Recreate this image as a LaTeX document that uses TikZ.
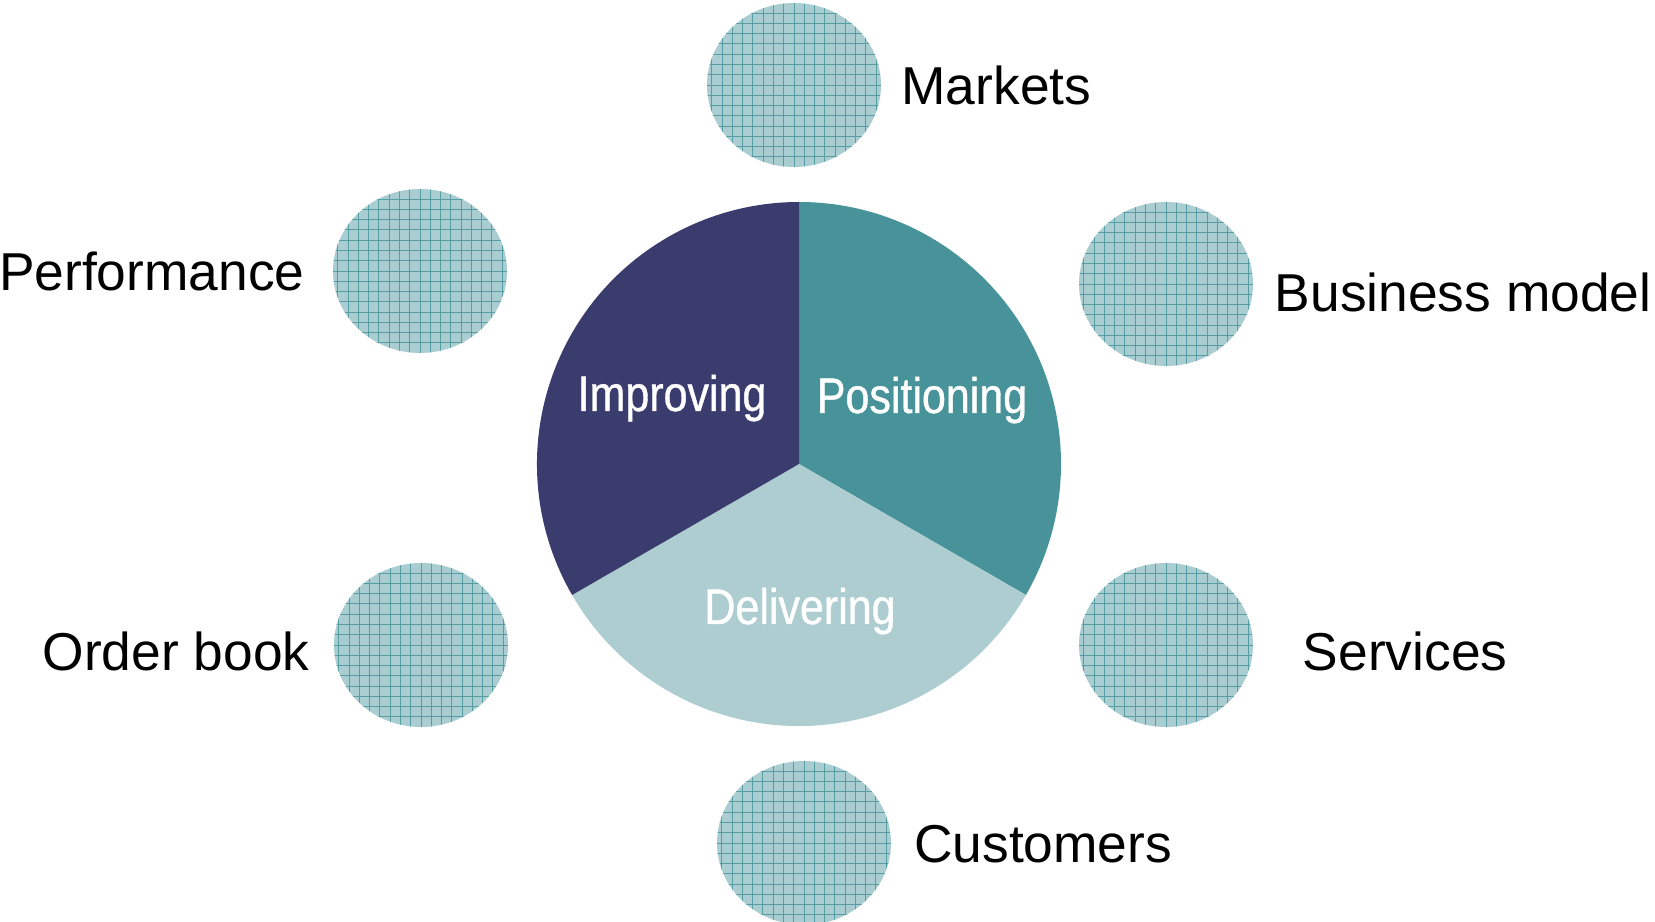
\documentclass[tikz,border=0pt]{standalone}
\usepackage{fontspec}
\setmainfont{Liberation Sans}
\newfontfamily\piefont[FakeStretch=0.86, FakeBold=0.8]{Liberation Sans}
\usepackage{tikz}
\usepackage{xcolor}
\usetikzlibrary{shapes.geometric, positioning, calc}

\definecolor{improvecol}{HTML}{3B3C6E}
\definecolor{positioncol}{HTML}{48939A}
\definecolor{delivercol}{HTML}{ADCDD1}
\definecolor{bubblefill}{HTML}{A9CDD1}
\definecolor{bubblegrid}{HTML}{579EA4}

\begin{document}
\begin{tikzpicture}[x=0.75pt, y=0.75pt,
  bubble/.style={ellipse, inner sep=0pt, minimum width=130.5pt, minimum height=123pt,
    fill=bubblefill,
    path picture={\draw[bubblegrid, line width=0.7pt]
      (path picture bounding box.south west) grid[step=7.7pt]
      (path picture bounding box.north east);}},
  lbl/.style={inner sep=0pt, text height=28.6pt, text depth=0pt,
    font=\fontsize{40}{45}\selectfont},
  pielbl/.style={inner sep=0pt, text height=27pt, text depth=0pt, text=white,
    font=\piefont\fontsize{37.5}{42}\selectfont}]
\useasboundingbox (0,0) rectangle (1655,921);

% Pie
\coordinate (c) at (799,457);
\fill[positioncol] (c) -- ++(90:196.5pt) arc[start angle=90, end angle=-30, radius=196.5pt] -- cycle;
\fill[delivercol] (c) -- ++(-30:196.5pt) arc[start angle=-30, end angle=-150, radius=196.5pt] -- cycle;
\fill[improvecol] (c) -- ++(-150:196.5pt) arc[start angle=-150, end angle=-270, radius=196.5pt] -- cycle;
\node[pielbl] (improving) at (672,528) {Improving};
\node[pielbl] (positioning) at (922,526) {Positioning};
\node[pielbl] (delivering) at (800,315) {Delivering};

% Bubbles
\node[bubble] (markets) at (794,836) {};
\node[bubble] (performance) at (420,650) {};
\node[bubble] (business) at (1166,637) {};
\node[bubble] (orderbook) at (421,276) {};
\node[bubble] (services) at (1166,276) {};
\node[bubble] (customers) at (804,78) {};

% Labels
\node[lbl, right=15pt of markets] (marketslbl) {Markets};
\node[lbl, left=21pt of performance] (performancelbl) {Performance};
\node[lbl, right=16pt of business, yshift=-6pt] (businesslbl) {Business model};
\node[lbl, left=18pt of orderbook, yshift=-5pt] (orderbooklbl) {Order book};
\node[lbl, right=37pt of services, yshift=-4.5pt] (serviceslbl) {Services};
\node[lbl, right=17pt of customers] (customerslbl) {Customers};
\end{tikzpicture}
\end{document}
